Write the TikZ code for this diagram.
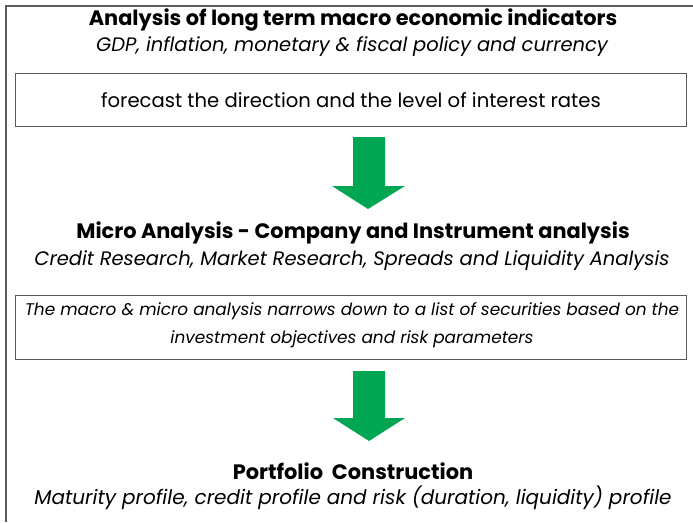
\documentclass[tikz,border=0pt]{standalone}
\usepackage{fontspec}
\setmainfont{Poppins}
\definecolor{arrowgreen}{RGB}{0,166,81}
\definecolor{framegray}{RGB}{90,90,90}
\begin{document}
\begin{tikzpicture}[x=1pt,y=-1pt,
  title/.style={font=\fontsize{20.9}{24}\selectfont\bfseries, inner sep=0pt, anchor=center},
  sub/.style={font=\fontsize{19.5}{23}\selectfont\itshape, inner sep=0pt, anchor=center},
  box/.style={draw=framegray, line width=1pt},
  bigarrow/.style={fill=arrowgreen, draw=none}]
\useasboundingbox (0,0) rectangle (693,522);
\draw[framegray, line width=1.2pt] (6,522) -- (6,6) -- (693,6);
\node[title] (t1) at (353,20) {Analysis of long term macro economic indicators};
\node[sub] (s1) at (352,47) {GDP, inflation, monetary \& fiscal policy and currency};
\draw[box] (15,73) rectangle (686,126);
\node[font=\fontsize{19.6}{23}\selectfont, inner sep=0pt] (b1) at (351,100) {forecast the direction and the level of interest rates};
\fill[bigarrow] (353,137) -- (385,137) -- (385,186) -- (405,186) -- (368,209) -- (332,186) -- (353,186) -- cycle;
\node[title] (t2) at (353,233) {Micro Analysis - Company and Instrument analysis};
\node[sub] (s2) at (352,261) {Credit Research, Market Research, Spreads and Liquidity Analysis};
\draw[box] (15,295) rectangle (686,359);
\node[sub, align=center, font=\fontsize{16.9}{28}\selectfont\itshape] (b2) at (352,325) {The macro \& micro analysis narrows down to a list of securities based on the\\investment objectives and risk parameters};
\fill[bigarrow] (353,371) -- (385,371) -- (385,418) -- (405,418) -- (369,441) -- (333,418) -- (353,418) -- cycle;
\node[title] (t3) at (353,471) {Portfolio\ \ Construction};
\node[sub, font=\fontsize{20}{23}\selectfont\itshape] (s3) at (353,498) {Maturity profile, credit profile and risk (duration, liquidity) profile};
\end{tikzpicture}
\end{document}
